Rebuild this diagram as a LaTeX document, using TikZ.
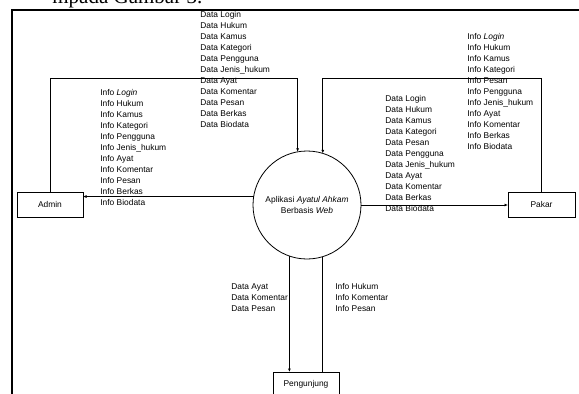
\documentclass[tikz,border=0pt]{standalone}
\usepackage{fontspec}
\setmainfont{Liberation Sans}
\newfontfamily\titlefont{Liberation Serif}
\usetikzlibrary{arrows.meta}
\begin{document}
\begin{tikzpicture}[x=1pt,y=-1pt,
  font=\fontsize{8.4}{11}\selectfont,
  line width=0.8pt,
  flow/.style={draw,-{Latex[length=3.5pt,width=3pt]}},
  entity/.style={draw,minimum width=66pt,minimum height=25pt,inner sep=0pt,outer sep=0pt},
  lbl/.style={anchor=north west,align=left,inner sep=0pt}]
\useasboundingbox (0,0) rectangle (579,394);
\clip (0,0) rectangle (579,394);
\fill[white] (0,0) rectangle (579,394);
% cropped caption text and frame
\node[anchor=base west,inner sep=0pt,font=\titlefont\fontsize{21}{21}\selectfont] (title) at (52,3) {mpada Gambar 3.};
\draw[line width=1.5pt] (12,400) -- (12,10) -- (590,10);
% nodes
\node[draw,circle,minimum size=108pt,inner sep=0pt,outer sep=0pt,align=center] (app) at (307,205)
  {Aplikasi \textit{Ayatul Ahkam}\\Berbasis \textit{Web}};
\node[entity] (admin) at (50,204.5) {Admin};
\node[entity,minimum width=67pt] (pakar) at (541.5,204.5) {Pakar};
\node[entity,anchor=north] (peng) at (306,372) {Pengunjung};
\coordinate (lvl) at (0,78);
% connectors
\draw[flow] (admin.north) |- (app.100.67 |- lvl) -- (app.100.67);
\draw[flow] (pakar.north) |- (app.73.9 |- lvl) -- (app.73.9);
\draw[flow] (app.171.5) -- (app.171.5 -| admin.east);
\draw[flow] (app.0) -- (app.0 -| pakar.west);
\draw[flow] (app.251.6) -- (app.251.6 |- peng.north);
\draw (peng.north -| app.287.2) -- (app.287.2);
% labels
\node[lbl] (l1) at (200,11.5) {Data Login\\Data Hukum\\Data Kamus\\Data Kategori\\Data Pengguna\\Data Jenis\_hukum\\Data Ayat\\Data Komentar\\Data Pesan\\Data Berkas\\Data Biodata};
\node[lbl] (l2) at (100,89.5) {Info \textit{Login}\\Info Hukum\\Info Kamus\\Info Kategori\\Info Pengguna\\Info Jenis\_hukum\\Info Ayat\\Info Komentar\\Info Pesan\\Info Berkas\\Info Biodata};
\node[lbl] (l3) at (385,95.5) {Data Login\\Data Hukum\\Data Kamus\\Data Kategori\\Data Pesan\\Data Pengguna\\Data Jenis\_hukum\\Data Ayat\\Data Komentar\\Data Berkas\\Data Biodata};
\node[lbl] (l4) at (467,33.5) {Info \textit{Login}\\Info Hukum\\Info Kamus\\Info Kategori\\Info Pesan\\Info Pengguna\\Info Jenis\_hukum\\Info Ayat\\Info Komentar\\Info Berkas\\Info Biodata};
\node[lbl] (l5) at (231,283.5) {Data Ayat\\Data Komentar\\Data Pesan};
\node[lbl] (l6) at (335,283.5) {Info Hukum\\Info Komentar\\Info Pesan};
\end{tikzpicture}
\end{document}
